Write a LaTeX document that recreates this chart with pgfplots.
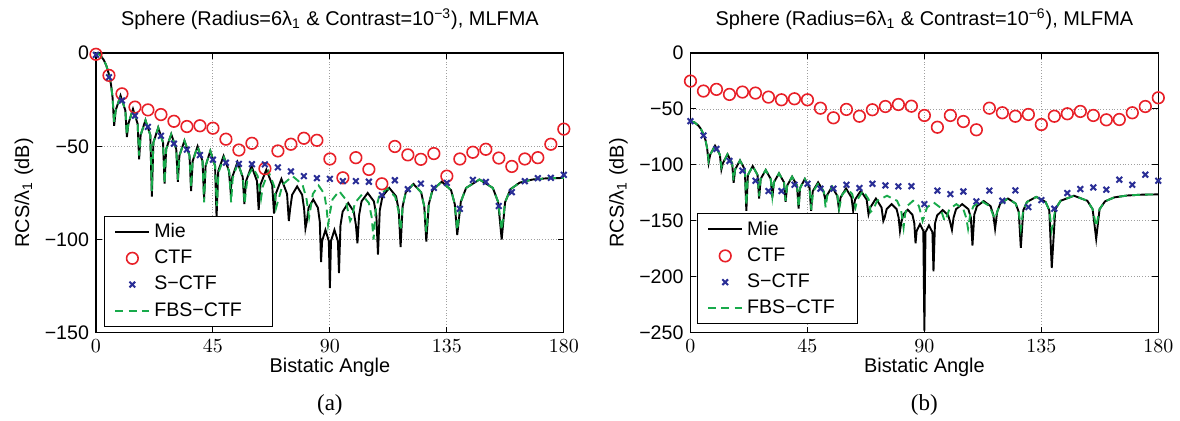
\documentclass[border=0pt]{standalone}
\usepackage{fontspec}
\setmainfont{Liberation Sans}
\newfontfamily\seriffont{Liberation Serif}
\usepackage{pgfplots}
\usepackage{pgfplotstable}
\pgfplotsset{compat=1.18}

\definecolor{ctfred}{RGB}{232,32,40}
\definecolor{sblue}{RGB}{42,46,150}
\definecolor{fgreen}{RGB}{24,170,75}

\newcommand\lf{\fontsize{9.8bp}{11.5bp}\selectfont}
\newcommand\tf{\fontsize{7.4bp}{9bp}\selectfont}

% Mie: x, a (contrast 1e-3), b (contrast 1e-6)
\pgfplotstableread{
x a b
0 0 -61
1.5 -0.9 -61.9
3.0 -3.7 -64.7
4.0 -6.8 -67.8
5.0 -11.5 -72.5
5.8 -17 -78
6.4 -24 -85
7.0 -39 -98
7.59 -30.8 -90.8
9.45 -22.8 -82.8
11.31 -30.8 -90.8
11.9 -45 -104
12.46 -38 -98.5
14.25 -30 -90.5
16.04 -38 -98.5
16.6 -57 -116
17.19 -44 -104
19.05 -36 -96
20.91 -44 -104
21.5 -77 -141
22.09 -48 -109
23.95 -40 -101
25.81 -48 -109
26.4 -70 -130
27.01 -51.5 -112.5
28.95 -43.5 -104.5
30.89 -51.5 -112.5
31.5 -69 -129
32.11 -55 -115.5
34.05 -47 -107.5
35.99 -55 -115.5
36.6 -74 -133
37.2 -58 -118.5
39.1 -50 -110.5
41.0 -58 -118.5
41.6 -78 -139
42.18 -60.5 -120.5
44.0 -52.5 -112.5
45.82 -60.5 -120.5
46.4 -88 -141
47.05 -63.2 -123.5
49.1 -55.2 -115.5
51.15 -63.2 -123.5
51.8 -74 -130
52.44 -66.5 -127.5
54.45 -58.5 -119.5
56.46 -66.5 -127.5
57.1 -81 -139
57.76 -68.6 -129
59.85 -60.6 -121
61.94 -68.6 -129
62.6 -84 -141
63.31 -70.5 -131
65.55 -62.5 -123
67.79 -70.5 -131
68.5 -86 -144
69.18 -75.5 -138
71.35 -67.5 -130
73.52 -75.5 -138
74.2 -90 -150
74.71 -83.5 -147
75.48 -76 -139.5
77.4 -71.5 -135
79.32 -76 -139.5
80.09 -83.5 -147
80.6 -94 -159
81.08 -90.5 -152
81.8 -83 -144.5
83.6 -78.5 -140
85.4 -83 -144.5
86.12 -90.5 -152
86.6 -112 -170
87.01 -100.8 -159
88.3 -94.8 -153
89.59 -100.8 -159
90.0 -126 -248
90.42 -100.8 -160
91.75 -94.8 -154
93.08 -100.8 -160
93.5 -118 -195
94.07 -92.4 -152.3
94.92 -85 -145
97.05 -80.4 -140.3
99.18 -85 -145
100.03 -92.4 -152.3
100.6 -102 -158
101.23 -87 -147
102.18 -79.5 -139.5
104.55 -75 -135
106.92 -79.5 -139.5
107.87 -87 -147
108.5 -108 -172
109.2 -84.3 -144.3
110.24 -76.8 -136.8
112.85 -72.3 -132.3
115.46 -76.8 -136.8
116.5 -84.3 -144.3
117.2 -104 -157
117.99 -82.2 -142
119.18 -74.7 -134.5
122.15 -70.2 -130
125.12 -74.7 -134.5
126.31 -82.2 -142
127.1 -101 -174
128.05 -81 -140.5
129.48 -73.5 -133
133.05 -69 -128.5
136.62 -73.5 -133
138.05 -81 -140.5
139.0 -97.5 -192
140.37 -79.8 -139.5
142.42 -72.3 -132
147.55 -67.8 -127.5
152.68 -72.3 -132
154.73 -79.8 -139.5
156.1 -100 -166
157.4 -80 -139.5
159.5 -73 -132.5
163 -69.5 -129
168 -67.8 -127.3
174 -67.1 -126.5
180 -67 -126.3
}\mie

% FBS-CTF
\pgfplotstableread{
x a b
0 0 -61
1.5 -0.9 -61.9
3.0 -3.7 -64.7
4.0 -6.8 -67.8
5.0 -11.5 -72.5
5.8 -17 -78
6.4 -24 -85
7.0 -37 -96
7.59 -30.8 -90.8
9.45 -22.8 -82.8
11.31 -30.8 -90.8
11.9 -44 -102
12.46 -38 -98.5
14.25 -30 -90.5
16.04 -38 -98.5
16.6 -55 -114
17.19 -44 -104
19.05 -36 -96
20.91 -44 -104
21.5 -74 -136
22.09 -48 -109
23.95 -40 -101
25.81 -48 -109
26.4 -70 -128
27.01 -51.5 -112.5
28.95 -43.5 -104.5
30.89 -51.5 -112.5
31.5 -68 -128
32.11 -55 -115.5
34.05 -47 -107.5
35.99 -55 -115.5
36.6 -72 -132
37.2 -58 -118.5
39.1 -50 -110.5
41.0 -58 -118.5
41.6 -80 -138
42.18 -60.5 -120.5
44.0 -52.5 -112.5
45.82 -60.5 -120.5
46.5 -82 -140
47.16 -64 -124
49.25 -56 -116
51.34 -64 -124
52.0 -80 -138
52.62 -67 -127.5
54.6 -59 -119.5
56.58 -67 -127.5
57.2 -81 -139
57.7 -73.5 -133.5
58.46 -66 -126
60.35 -61.5 -121.5
62.24 -66 -126
63.0 -73.5 -133.5
63.5 -78 -138
64.2 -71.5 -131
66.4 -63.5 -123
68.6 -71.5 -131
69.3 -83 -142
70.32 -78 -139.5
71.84 -70.5 -132
75.65 -66 -127.5
79.46 -70.5 -132
80.98 -78 -139.5
82.0 -88 -156
82.58 -83 -144
83.46 -75.5 -136.5
85.65 -71 -132
87.84 -75.5 -136.5
88.72 -83 -144
89.3 -92 -150
89.98 -86 -145.5
91.0 -78.5 -138
93.55 -74 -133.5
96.1 -78.5 -138
97.12 -86 -145.5
97.8 -90 -150
98.52 -88 -147
99.6 -80.4 -139.5
102.3 -75.9 -135
105.0 -80.4 -139.5
106.08 -88 -147
106.8 -100 -157
107.63 -84.5 -144.3
108.88 -77 -136.8
112.0 -72.5 -132.3
115.12 -77 -136.8
116.37 -84.5 -144.3
117.2 -95 -148
117.99 -82.2 -142
119.18 -74.7 -134.5
122.15 -70.2 -130
125.12 -74.7 -134.5
126.31 -82.2 -142
127.1 -96 -157
128.05 -81 -140.5
129.48 -73.5 -133
133.05 -69 -128.5
136.62 -73.5 -133
138.05 -81 -140.5
139.0 -95 -158
140.37 -79.8 -139.5
142.42 -72.3 -132
147.55 -67.8 -127.5
152.68 -72.3 -132
154.73 -79.8 -139.5
156.1 -95 -155
157.4 -80 -139.5
159.5 -73 -132.5
163 -69.5 -129
168 -67.8 -127.3
174 -67.1 -126.5
180 -67 -126.3
}\fbs

% CTF
\pgfplotstableread{
x a b
0 -0.7 -25.1
5 -12 -34
10 -21.9 -32.5
15 -29 -37
20 -30.5 -34.9
25 -33 -35.8
30 -36.6 -39.4
35 -39.4 -41.8
40 -39 -40.9
45 -40.3 -41.8
50 -46.2 -49.3
55 -52 -57.9
60 -48.4 -50.4
65 -62 -56.5
70 -52.5 -50.7
75 -48.9 -47.8
80 -45.7 -46
85 -46.8 -47.5
90 -56.8 -55.8
95 -66.9 -66.3
100 -56.1 -55.8
105 -62.4 -61.2
110 -70.1 -68.6
115 -50.1 -49.3
120 -54.6 -53.4
125 -57 -56.5
130 -53.9 -54.9
135 -66 -63.9
140 -56.8 -56.5
145 -53.2 -54.3
150 -51.6 -52.2
155 -56.3 -55.8
160 -60.8 -59.7
165 -56.8 -59.4
170 -56.1 -53.4
175 -48.9 -47.8
180 -40.8 -40
}\ctf

% S-CTF
\pgfplotstableread{
x a b
0 -1 -60.9
5 -13 -73.7
10 -25.5 -85.7
15 -33.6 -96.4
20 -39.6 -105.1
25 -44.4 -114.1
30 -48.6 -123.3
35 -51.8 -123.3
40 -54.7 -117.7
45 -57.2 -116.8
50 -58.8 -121.2
55 -59.4 -121.2
60 -59.6 -117.7
65 -59.7 -120.6
70 -61.3 -116.8
75 -63.5 -118.3
80 -66 -119.1
85 -67.1 -119
90 -67.5 -135
95 -68.7 -123
100 -68.7 -126
105 -69 -123.7
110 -76.2 -132.6
115 -68.2 -123
120 -73 -132
125 -70 -122.7
130 -72.3 -137.7
135 -69.6 -131.4
140 -83.5 -139.1
145 -68 -125.1
150 -69.1 -121.5
155 -82 -120.1
160 -74.6 -122.1
165 -68.7 -113.2
170 -67.1 -117.7
175 -66.9 -108.7
180 -65.3 -114.1
}\sctf

\pgfplotsset{
  rcs/.style={
    scale only axis, width=234bp, height=140bp,
    xmin=0, xmax=180, xtick={0,45,90,135,180},
    grid=major,
    major grid style={densely dotted, gray!75, line width=0.45bp},
    tick align=inside, major tick length=3bp,
    axis line style={line width=0.55bp},
    tick style={line width=0.5bp, black},
    tick label style={font=\lf},
    label style={font=\lf},
    title style={font=\tf},
    xlabel={Bistatic Angle},
    ylabel={RCS/λ\textsubscript{1} (dB)},
    every axis x label/.style={at={(axis description cs:0.5,0)}, yshift=-17bp, anchor=center},
    every axis y label/.style={at={(axis description cs:0,0.5)}, xshift=-36bp, rotate=90, anchor=center},
    every axis title/.style={at={(axis description cs:0.5,1)}, yshift=17bp, anchor=center},
    clip=false,
    legend cell align=left,
    legend style={font=\lf, draw=black, line width=0.5bp, anchor=south west,
      inner xsep=5bp, inner ysep=1.5bp, row sep=0.8bp},
  },
  mieline/.style={black, line width=0.95bp},
  ctfmark/.style={only marks, mark=o, mark size=2.9bp, ctfred, mark options={line width=0.8bp}},
  sctfmark/.style={only marks, mark=x, mark size=2bp, sblue, mark options={line width=1bp}},
  fbsline/.style={fgreen, line width=0.95bp, dash pattern=on 4bp off 2.6bp},
}

\begin{document}
\begin{tikzpicture}
\useasboundingbox (-48bp,-44bp) rectangle (542.2bp,166.5bp);
\begin{axis}[rcs, at={(0,0)}, anchor=south west,
  ymin=-150, ymax=0, ytick={-150,-100,-50,0}, yticklabels={−150,−100,−50,0},
  title={Sphere (Radius=6λ\textsubscript{1} \& Contrast=10\textsuperscript{−3}), MLFMA},
  legend style={at={(0.017,0.0225)}}]
\addplot[mieline] table[x=x,y=a]{\mie};
\addplot[ctfmark] table[x=x,y=a]{\ctf};
\addplot[sctfmark] table[x=x,y=a]{\sctf};
\addplot[fbsline] table[x=x,y=a]{\fbs};
\legend{Mie,CTF,S−CTF,\makebox[52bp][l]{FBS−CTF}}
\node[font=\seriffont\fontsize{11.5bp}{13bp}\selectfont, yshift=-36bp] at (rel axis cs:0.5,0) {(a)};
\end{axis}
\begin{axis}[rcs, at={(297.35bp,0)}, anchor=south west,
  ymin=-250, ymax=0, ytick={-250,-200,-150,-100,-50,0}, yticklabels={−250,−200,−150,−100,−50,0},
  title={Sphere (Radius=6λ\textsubscript{1} \& Contrast=10\textsuperscript{−6}), MLFMA},
  legend style={at={(0.0135,0.031)}}]
\addplot[mieline] table[x=x,y=b]{\mie};
\addplot[ctfmark] table[x=x,y=b]{\ctf};
\addplot[sctfmark] table[x=x,y=b]{\sctf};
\addplot[fbsline] table[x=x,y=b]{\fbs};
\legend{Mie,CTF,S−CTF,\makebox[48bp][l]{FBS−CTF}}
\node[font=\seriffont\fontsize{11.5bp}{13bp}\selectfont, yshift=-36bp] at (rel axis cs:0.5,0) {(b)};
\end{axis}
\end{tikzpicture}
\end{document}
